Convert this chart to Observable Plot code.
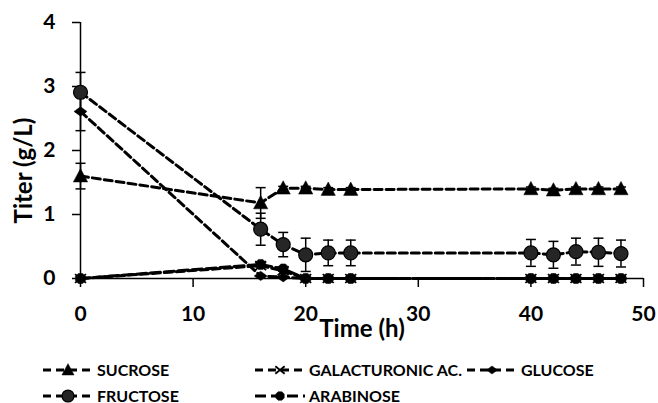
<!DOCTYPE html>
<html><head><meta charset="utf-8">
<script src="https://cdn.jsdelivr.net/npm/d3@7"></script>
<script src="https://cdn.jsdelivr.net/npm/@observablehq/plot@0.6"></script>
<style>
body{margin:0;background:#fff;font-family:Lato,"Liberation Sans",sans-serif;}
#chart svg{display:block;}
#legend{position:relative;width:658px;height:58px;}
.row{position:absolute;left:43px;display:flex;align-items:center;height:14px;}
.item{display:flex;align-items:center;gap:4px;font-size:16px;line-height:14px;height:14px;font-weight:bold;color:#000;white-space:nowrap;}
.item svg{display:block;overflow:visible;}
</style></head><body>
<div id="chart"></div>
<div id="legend"></div>
<script>
// ---- data ----
const time = [0, 16, 18, 20, 22, 24, 40, 42, 44, 46, 48];
const names = ["SUCROSE", "GALACTURONIC AC.", "GLUCOSE", "FRUCTOSE", "ARABINOSE"];
const sucrose      = [1.60, 1.18, 1.41, 1.41, 1.39, 1.39, 1.40, 1.38, 1.40, 1.40, 1.40];
const sucroseSd    = [0.20, 0.24, 0.03, 0.03, 0.03, 0.03, 0.03, 0.03, 0.03, 0.03, 0.03];
const galacturonic = [0.00, 0.20, 0.12, 0.00, 0.00, 0.00, 0.00, 0.00, 0.00, 0.00, 0.00];
const galacturonicSd = [0, 0, 0, 0, 0, 0, 0, 0, 0, 0, 0];
const glucose      = [2.61, 0.04, 0.02, 0.00, 0.00, 0.00, 0.00, 0.00, 0.00, 0.00, 0.00];
const glucoseSd    = [0.30, 0.00, 0.00, 0.00, 0.00, 0.00, 0.00, 0.00, 0.00, 0.00, 0.00];
const fructose     = [2.91, 0.77, 0.53, 0.37, 0.40, 0.40, 0.40, 0.37, 0.42, 0.41, 0.39];
const fructoseSd   = [0.31, 0.25, 0.19, 0.26, 0.20, 0.20, 0.21, 0.21, 0.21, 0.22, 0.21];
const arabinose    = [0.00, 0.22, 0.15, 0.00, 0.00, 0.00, 0.00, 0.00, 0.00, 0.00, 0.00];
const arabinoseSd  = [0, 0, 0, 0, 0, 0, 0, 0, 0, 0, 0];
const xTicks = [0, 10, 20, 30, 40, 50];
const yTicks = [0, 1, 2, 3, 4];
const xLabel = "Time (h)";
const yLabel = "Titer (g/L)";

// ---- symbols ----
const rad = s => Math.sqrt(s / Math.PI);
const symTriangle = {draw(c, s){const r = rad(s); c.moveTo(0, -r); c.lineTo(r * 0.95, r * 0.78); c.lineTo(-r * 0.95, r * 0.78); c.closePath();}};
const symTimes = {draw(c, s){const r = rad(s); c.moveTo(-r, -r * 0.8); c.lineTo(r, r * 0.8); c.moveTo(-r, r * 0.8); c.lineTo(r, -r * 0.8);}};
const symDiamond = {draw(c, s){const r = rad(s); c.moveTo(-r, 0); c.lineTo(0, -r * 0.72); c.lineTo(r, 0); c.lineTo(0, r * 0.72); c.closePath();}};
const symOct = {draw(c, s){const r = rad(s); const k = r * 0.45; c.moveTo(-k, -r); c.lineTo(k, -r); c.lineTo(r, -k); c.lineTo(r, k); c.lineTo(k, r); c.lineTo(-k, r); c.lineTo(-r, k); c.lineTo(-r, -k); c.closePath();}};
const symCap = {draw(c, s){const r = rad(s); c.moveTo(-r, 0); c.lineTo(r, 0);}};

const styles = [
  {symbol: symTriangle, r: 7.5, fill: "#000", stroke: "#000", sw: 0.5, dash: "8,4"},
  {symbol: symTimes, r: 5.5, fill: "none", stroke: "#000", sw: 1.8, dash: "8,4"},
  {symbol: symDiamond, r: 6.5, fill: "#000", stroke: "#000", sw: 0.5, dash: "8,4"},
  {symbol: "circle", r: 7, fill: "#262626", stroke: "#000", sw: 1.2, dash: "8,4"},
  {symbol: symOct, r: 5, fill: "#000", stroke: "#000", sw: 0.5, dash: "10,4"}
];
const values = [sucrose, galacturonic, glucose, fructose, arabinose];
const sds = [sucroseSd, galacturonicSd, glucoseSd, fructoseSd, arabinoseSd];

const series = names.map((name, i) => time.map((t, j) => ({name, t, v: values[i][j], e: sds[i][j]})));

const marks = [];
series.forEach((data, i) => {
  marks.push(Plot.line(data, {x: "t", y: "v", stroke: "#000", strokeWidth: 3, strokeDasharray: styles[i].dash}));
});
series.forEach((data) => {
  const withErr = data.filter(d => d.e > 0);
  marks.push(Plot.ruleX(withErr, {x: "t", y1: d => d.v - d.e, y2: d => d.v + d.e, stroke: "#000", strokeWidth: 1.5}));
  marks.push(Plot.dot(withErr, {x: "t", y: d => d.v + d.e, symbol: symCap, r: 5, stroke: "#000", strokeWidth: 1.5, fill: "none"}));
  marks.push(Plot.dot(withErr, {x: "t", y: d => d.v - d.e, symbol: symCap, r: 5, stroke: "#000", strokeWidth: 1.5, fill: "none"}));
});
series.forEach((data, i) => {
  const s = styles[i];
  marks.push(Plot.dot(data, {x: "t", y: "v", symbol: s.symbol, r: s.r, fill: s.fill, stroke: s.stroke, strokeWidth: s.sw}));
});

const chart = Plot.plot({
  width: 658, height: 345,
  marginLeft: 80, marginRight: 15, marginTop: 22, marginBottom: 67,
  style: {fontFamily: "Lato, 'Liberation Sans', sans-serif", color: "#000", background: "#fff"},
  x: {domain: [0, 50]},
  y: {domain: [0, 4]},
  marks: [
    Plot.ruleX([0], {stroke: "#000", strokeWidth: 1.5}),
    Plot.ruleY([0], {stroke: "#000", strokeWidth: 1.5}),
    Plot.axisX({ticks: xTicks, tickSize: 9, tickPadding: 19, fontSize: 21, fontWeight: "bold", label: null, stroke: "#000", strokeWidth: 1.5, tickFormat: d => d}),
    Plot.axisY({ticks: yTicks, tickSize: 8, tickPadding: 17, fontSize: 21, fontWeight: "bold", label: null, stroke: "#000", strokeWidth: 1.5, tickFormat: d => d}),
    ...marks,
    Plot.text([xLabel], {text: d => d, frameAnchor: "bottom", lineAnchor: "middle", textAnchor: "middle", dy: 51, fontSize: 24, fontWeight: "bold"}),
    Plot.text([yLabel], {text: d => d, frameAnchor: "left", lineAnchor: "middle", textAnchor: "middle", dx: -56, dy: 20, rotate: -90, fontSize: 24, fontWeight: "bold"})
  ]
});
document.getElementById("chart").appendChild(chart);

// ---- legend ----
const legend = d3.select("#legend");
const rows = [[0, 1, 2], [3, 4]];
const rowCenters = [25, 50.5]; // relative to legend top
const itemWidths = [212, 212, 200];
rows.forEach((row, ri) => {
  const r = legend.append("div").attr("class", "row").style("top", (rowCenters[ri] - 7) + "px");
  row.forEach((i, k) => {
    const it = r.append("div").attr("class", "item").style("width", itemWidths[k] + "px");
    const svg = it.append("svg").attr("width", 50).attr("height", 14);
    svg.append("line").attr("x1", 0).attr("x2", 50).attr("y1", 7).attr("y2", 7)
      .attr("stroke", "#000").attr("stroke-width", 3).attr("stroke-dasharray", i === 4 ? "11,5" : "8,5");
    const s = styles[i];
    const sy = s.symbol === "circle" ? d3.symbolCircle : s.symbol;
    const rr = s.r * 0.85;
    svg.append("path").attr("transform", "translate(25,7)")
      .attr("d", d3.symbol(sy, Math.PI * rr * rr)())
      .attr("fill", s.fill).attr("stroke", s.stroke).attr("stroke-width", s.sw);
    it.append("span").text(names[i]);
  });
});
</script>
</body></html>
